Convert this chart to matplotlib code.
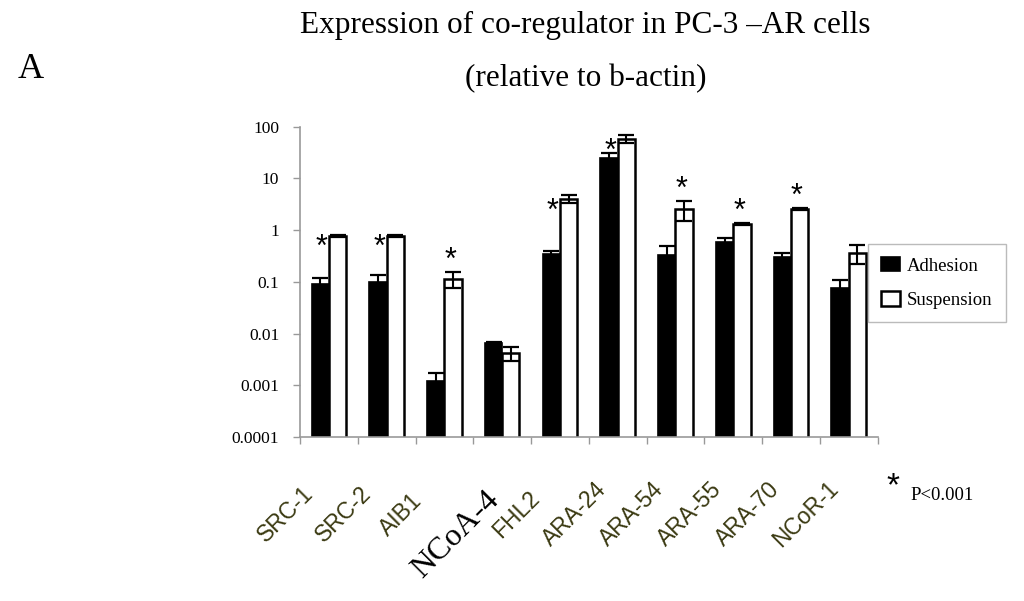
import matplotlib
matplotlib.use("Agg")
import matplotlib.pyplot as plt
import numpy as np

# data (relative expression, log scale)
genes = ["SRC-1", "SRC-2", "AIB1", "NCoA-4", "FHL2", "ARA-24", "ARA-54", "ARA-55", "ARA-70", "NCoR-1"]
adhesion = [0.09, 0.10, 0.0012, 0.0066, 0.35, 25.0, 0.33, 0.58, 0.30, 0.075]
adhesion_err = [0.03, 0.035, 0.0005, 0.0002, 0.05, 5.5, 0.17, 0.13, 0.07, 0.032]
suspension = [0.78, 0.78, 0.115, 0.0042, 4.0, 58.0, 2.6, 1.3, 2.55, 0.37]
suspension_err = [0.04, 0.04, 0.04, 0.0013, 0.7, 10.0, 1.1, 0.05, 0.08, 0.15]
# where the significance star sits: next to the open bar or above it
star_pos = ["left", "left", "above", None, "left", "left", "above", "above", "above", None]
yticks = [0.0001, 0.001, 0.01, 0.1, 1, 10, 100]
ytick_labels = ["0.0001", "0.001", "0.01", "0.1", "1", "10", "100"]

SERIF = "Liberation Serif"
SANS = "Liberation Sans"
OLIVE = "#3b3a12"

fig = plt.figure(figsize=(10.24, 6.01), dpi=100)
ax = fig.add_axes([0.293, 0.273, 0.564, 0.516])

x = np.arange(len(genes))
w = 0.3
ax.bar(x - w / 2, adhesion, w, color="black", edgecolor="black", linewidth=1.2,
       label="Adhesion", zorder=2)
ax.bar(x + w / 2, suspension, w, color="white", edgecolor="black", linewidth=1.8,
       label="Suspension", zorder=2)
ax.errorbar(x - w / 2, adhesion, yerr=adhesion_err, fmt="none", ecolor="black",
            elinewidth=1.5, capsize=6, capthick=1.6, zorder=3)
ax.errorbar(x + w / 2, suspension, yerr=suspension_err, fmt="none", ecolor="black",
            elinewidth=1.5, capsize=6, capthick=1.6, zorder=3)

# significance stars
for i, pos in enumerate(star_pos):
    if pos is None:
        continue
    top = suspension[i] + suspension_err[i]
    if pos == "left":
        ax.annotate("*", (i, suspension[i]), xytext=(-5, -9), textcoords="offset points",
                    ha="center", va="center", fontsize=22, family=SANS, zorder=5)
    else:
        ax.annotate("*", (i + w / 2, top), xytext=(-2, 8), textcoords="offset points",
                    ha="center", va="center", fontsize=22, family=SANS, zorder=5)

ax.set_yscale("log")
ax.set_ylim(0.0001, 100)
ax.set_xlim(-0.5, len(genes) - 0.5)
ax.set_yticks(yticks)
ax.set_yticklabels(ytick_labels, family=SERIF, fontsize=12.5)
ax.yaxis.set_minor_locator(matplotlib.ticker.NullLocator())
ax.set_xticks(np.arange(len(genes) + 1) - 0.5)
ax.set_xticklabels([])
ax.tick_params(axis="both", direction="out", length=5, color="#999999", width=1)
ax.tick_params(axis="y", pad=10)
for s in ["top", "right"]:
    ax.spines[s].set_visible(False)
for s in ["left", "bottom"]:
    ax.spines[s].set_color("#999999")
    ax.spines[s].set_linewidth(1.2)

# rotated category labels, shifted down-left as in the reference
for i, g in enumerate(genes):
    if g == "NCoA-4":
        ax.text(i - 0.8, -0.315, g, transform=ax.get_xaxis_transform(), rotation=45,
                ha="center", va="center", fontsize=23, family=SERIF, color="black")
    else:
        ax.text(i - 0.75, -0.25, g, transform=ax.get_xaxis_transform(), rotation=45,
                ha="center", va="center", fontsize=16.5, family=SANS, color=OLIVE)

leg = ax.legend(loc="upper left", bbox_to_anchor=(0.983, 0.623), borderaxespad=0,
                frameon=True, fancybox=False, prop={"family": SERIF, "size": 13.5},
                handlelength=1.0, handleheight=0.8, borderpad=0.7, labelspacing=0.9,
                handletextpad=0.4)
leg.get_frame().set_edgecolor("#aaaaaa")
leg.get_frame().set_linewidth(1.0)

fig.text(0.572, 0.957, "Expression of co-regulator in PC-3 \u2013AR cells", ha="center",
         va="center", fontsize=22.5, family=SERIF)
fig.text(0.572, 0.87, "(relative to b-actin)", ha="center", va="center",
         fontsize=22.5, family=SERIF)
fig.text(0.03, 0.885, "A", ha="center", va="center", fontsize=26, family=SERIF)
fig.text(0.872, 0.19, "*", ha="center", va="center", fontsize=24, family=SANS)
fig.text(0.889, 0.175, "P<0.001", ha="left", va="center", fontsize=13.5, family=SERIF)

fig.savefig("out.png", dpi=100)
